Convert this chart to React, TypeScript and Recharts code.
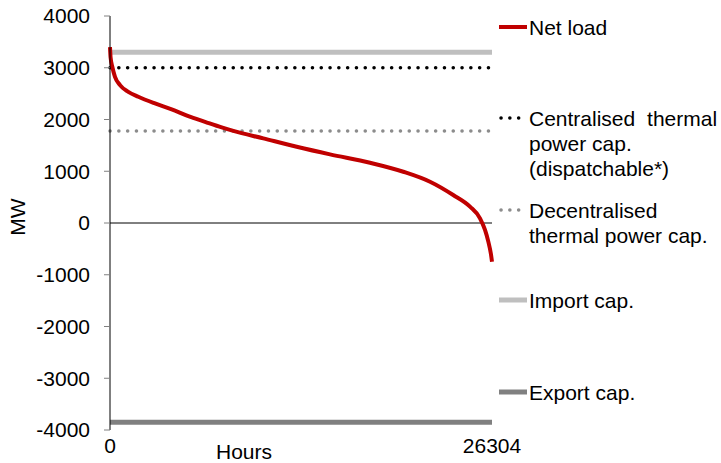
import { LineChart, Line, XAxis, YAxis, ReferenceLine, Legend } from 'recharts'

// duration curve of net load
const hours = [0, 40, 158, 344, 689, 1260, 1949, 3099, 4249, 5392, 6542, 7692, 8491, 10556, 12856, 15149, 17904, 20197, 22035, 23633, 24790, 25478, 25823, 26050, 26230, 26304]
const netLoad = [3400, 3200, 3020, 2825, 2665, 2535, 2440, 2310, 2195, 2065, 1955, 1847, 1780, 1635, 1473, 1326, 1164, 990, 797, 540, 315, 90, -135, -360, -600, -750]

const capSpan = [0, 26304]
const centralisedCap = [3000, 3000]
const decentralisedCap = [1780, 1780]
const importCap = [3300, 3300]
const exportCap = [-3850, -3850]

const yTicks = [-4000, -3000, -2000, -1000, 0, 1000, 2000, 3000, 4000]
const xTicks = [0, 26304]

const seriesNames = ['Net load', 'Centralised thermal power cap. (dispatchable*)', 'Decentralised thermal power cap.', 'Import cap.', 'Export cap.']
const legendLines = [['Net load'], ['Centralised thermal', 'power cap.', '(dispatchable*)'], ['Decentralised', 'thermal power cap.'], ['Import cap.'], ['Export cap.']]

const FONT = '"Liberation Sans", Arial, sans-serif'

const zip = (xs: number[], ys: number[]) => xs.map((h, i) => ({ h, v: ys[i] }))

const netData = zip(hours, netLoad)
const centralData = zip(capSpan, centralisedCap)
const decentralData = zip(capSpan, decentralisedCap)
const importData = zip(capSpan, importCap)
const exportData = zip(capSpan, exportCap)

type Sample = { color: string; width: number; dotted?: boolean }
const samples: Sample[] = [
  { color: '#c00000', width: 4 },
  { color: '#000000', width: 3.5, dotted: true },
  { color: '#8c8c8c', width: 3.5, dotted: true },
  { color: '#bfbfbf', width: 5 },
  { color: '#808080', width: 5 },
]
const legendY = [27, 118, 210, 300, 392]

function CapLegend() {
  return (
    <div style={{ position: 'relative', width: 721, height: 463, fontFamily: FONT, fontSize: 21, color: '#000' }}>
      {legendLines.map((lines, i) => (
        <div key={seriesNames[i]}>
          <svg width={30} height={10} style={{ position: 'absolute', left: 498, top: legendY[i] - 5 }}>
            <line
              x1={samples[i].dotted ? 3 : 1}
              x2={samples[i].dotted ? 26 : 29}
              y1={5}
              y2={5}
              stroke={samples[i].color}
              strokeWidth={samples[i].width}
              strokeDasharray={samples[i].dotted ? '0.1 8.7' : undefined}
              strokeLinecap={samples[i].dotted ? 'round' : 'butt'}
            />
          </svg>
          <div style={{ position: 'absolute', left: 529, top: legendY[i] - 12.5, lineHeight: '25px', whiteSpace: 'nowrap' }}>
            {lines.map((t, j) => (
              // first line of the centralised entry is justified in the source
              <div key={t} style={{ wordSpacing: i === 1 && j === 0 ? 6 : 0 }}>{t}</div>
            ))}
          </div>
        </div>
      ))}
    </div>
  )
}

export default function App() {
  const tick = { fontSize: 21, fill: '#000', fontFamily: FONT }
  return (
    <div style={{ position: 'absolute', left: 0, top: 0 }}>
      <LineChart width={721} height={463} margin={{ top: 16, right: 229, bottom: 0, left: 0 }} style={{ fontFamily: FONT }}>
        <XAxis
          type="number"
          dataKey="h"
          domain={[0, 26304]}
          ticks={xTicks}
          axisLine={false}
          tickLine={false}
          tick={tick}
          height={33}
          label={{ value: 'Hours', position: 'insideBottom', offset: 4, dx: -57, fontSize: 21, fill: '#000', fontFamily: FONT }}
        />
        <YAxis
          type="number"
          dataKey="v"
          domain={[-4000, 4000]}
          ticks={yTicks}
          width={110}
          tick={tick}
          tickSize={6}
          tickMargin={14}
          tickLine={{ stroke: '#808080' }}
          axisLine={{ stroke: '#000' }}
          label={{ value: 'MW', angle: -90, position: 'center', dx: -37, dy: -6, fontSize: 21, fill: '#000', fontFamily: FONT }}
        />
        <ReferenceLine y={0} stroke="#000" strokeWidth={1} />
        <Line data={importData} dataKey="v" name={seriesNames[3]} stroke="#bfbfbf" strokeWidth={5} dot={false} isAnimationActive={false} />
        <Line data={exportData} dataKey="v" name={seriesNames[4]} stroke="#808080" strokeWidth={5} dot={false} isAnimationActive={false} />
        <Line data={centralData} dataKey="v" name={seriesNames[1]} stroke="#000" strokeWidth={3.5} strokeDasharray="0.1 8.7" strokeLinecap="round" dot={false} isAnimationActive={false} />
        <Line data={decentralData} dataKey="v" name={seriesNames[2]} stroke="#8c8c8c" strokeWidth={3.5} strokeDasharray="0.1 8.7" strokeLinecap="round" dot={false} isAnimationActive={false} />
        <Line data={netData} dataKey="v" name={seriesNames[0]} type="monotone" stroke="#c00000" strokeWidth={4} dot={false} isAnimationActive={false} />
        <Legend layout="vertical" align="center" verticalAlign="middle" wrapperStyle={{ left: 0, top: 0, width: 721, height: 463, pointerEvents: 'none' }} content={() => <CapLegend />} />
      </LineChart>
    </div>
  )
}
